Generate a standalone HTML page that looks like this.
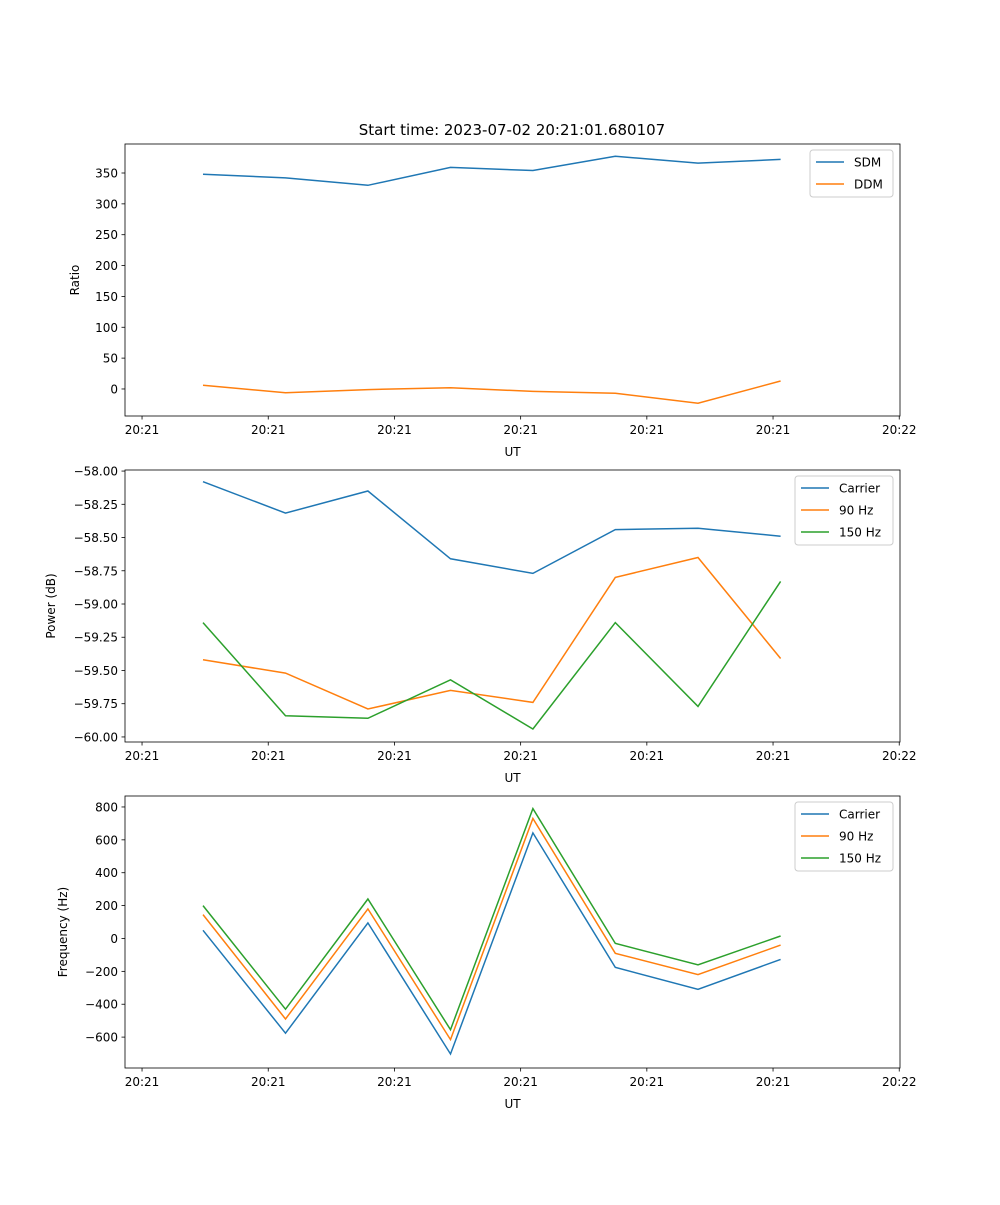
<!DOCTYPE html>
<html><head><meta charset="utf-8"><style>
body{margin:0;background:#fff}
svg text{font-family:"DejaVu Sans","Liberation Sans",sans-serif;fill:#000}
</style></head><body>
<svg id="fig" width="1000" height="1200" xmlns="http://www.w3.org/2000/svg"></svg>
<script>
const times = [4.83, 11.37, 17.9, 24.44, 30.97, 37.5, 44.05, 50.6];
const xTickVals = [0, 10, 20, 30, 40, 50, 60];
const xTickLabels = ["20:21","20:21","20:21","20:21","20:21","20:21","20:22"];
const sdm = [348, 342, 330, 359, 354, 377, 366, 372];
const ddm = [6, -6, -1, 2, -4, -7, -23, 13];
const powCarrier = [-58.08, -58.316, -58.15, -58.66, -58.77, -58.44, -58.43, -58.49];
const pow90 = [-59.42, -59.52, -59.79, -59.65, -59.74, -58.80, -58.65, -59.41];
const pow150 = [-59.14, -59.84, -59.86, -59.57, -59.94, -59.14, -59.77, -58.83];
const freqCarrier = [50, -576, 95, -703, 642, -176, -309, -127];
const freq90 = [145, -490, 180, -615, 730, -90, -220, -40];
const freq150 = [200, -430, 240, -555, 790, -30, -160, 15];
const ticks1 = [0,50,100,150,200,250,300,350];
const ticks1Labels = ["0","50","100","150","200","250","300","350"];
const ticks2 = [-60,-59.75,-59.5,-59.25,-59,-58.75,-58.5,-58.25,-58];
const ticks2Labels = ["\u221260.00","\u221259.75","\u221259.50","\u221259.25","\u221259.00","\u221258.75","\u221258.50","\u221258.25","\u221258.00"];
const ticks3 = [-600,-400,-200,0,200,400,600,800];
const ticks3Labels = ["\u2212600","\u2212400","\u2212200","0","200","400","600","800"];

const NS="http://www.w3.org/2000/svg";
const svg=document.getElementById('fig');
function el(tag,attrs,parent,text){const e=document.createElementNS(NS,tag);for(const k in attrs)e.setAttribute(k,attrs[k]);if(text!==undefined)e.textContent=text;(parent||svg).appendChild(e);return e;}
const L=125,R=900;
const xMin=-1.35,xMax=60.06;
const xs=v=>L+(v-xMin)/(xMax-xMin)*(R-L);
const FS='12';

function panel(name,top,bot,yMin,yMax,yt,ytl,ylabel,ylabX,series,legend){
  const g=el('g',{},svg);
  
  
  const ys=v=>bot-(v-yMin)/(yMax-yMin)*(bot-top);
  series.forEach(s=>{
    const p=el('polyline',{points:s.vals.map((v,i)=>xs(times[i]).toFixed(1)+','+ys(v).toFixed(1)).join(' '),fill:'none',stroke:s.color,'stroke-width':1.5},g);
    
    
  });
  const fr=el('rect',{x:L,y:top,width:R-L,height:bot-top,fill:'none',stroke:'#000','stroke-width':0.8},g);
  
  
  xTickVals.forEach((v,i)=>{
    const x=xs(v);
    el('line',{x1:x,x2:x,y1:bot,y2:bot+3.5,stroke:'#000','stroke-width':0.8},g);
    const t=el('text',{x:x,y:bot+18,'text-anchor':'middle','font-size':FS},g,xTickLabels[i]);
    
    
  });
  const xl=el('text',{x:(L+R)/2,y:bot+40,'text-anchor':'middle','font-size':FS},g,'UT');
  
  
  yt.forEach((v,i)=>{
    const y=ys(v);
    el('line',{x1:L-3.5,x2:L,y1:y,y2:y,stroke:'#000','stroke-width':0.8},g);
    const t=el('text',{x:L-7,y:y+4.5,'text-anchor':'end','font-size':FS},g,ytl[i]);
    
    
  });
  const cy=(top+bot)/2;
  const yl=el('text',{x:ylabX,y:cy,'text-anchor':'middle','font-size':FS,transform:'rotate(-90 '+ylabX+' '+cy+')'},g,ylabel);
  
  
  const lg=el('g',{},g);
  
  
  el('rect',{x:legend.x,y:top+6,width:legend.w,height:series.length*22+3,rx:3,fill:'#fff',stroke:'#ccc','stroke-width':1},lg);
  series.forEach((s,i)=>{
    const y=top+18+i*22;
    el('line',{x1:legend.x+6,x2:legend.x+34,y1:y,y2:y,stroke:s.color,'stroke-width':1.5},lg);
    const t=el('text',{x:legend.x+44,y:y+4.5,'font-size':FS},lg,s.label);
    
    
  });
}
const title=el('text',{x:512,y:135,'text-anchor':'middle','font-size':'15'},svg,'Start time: 2023-07-02 20:21:01.680107');


const B='#1f77b4',O='#ff7f0e',G='#2ca02c';
panel('ratio',144,416,-43.8,397,ticks1,ticks1Labels,'Ratio',79,
 [{key:'sdm',label:'SDM',vals:sdm,color:B},{key:'ddm',label:'DDM',vals:ddm,color:O}],{x:810,w:83});
panel('power',470,742,-60.038,-57.992,ticks2,ticks2Labels,'Power (dB)',55,
 [{key:'carrier',label:'Carrier',vals:powCarrier,color:B},{key:'90hz',label:'90 Hz',vals:pow90,color:O},{key:'150hz',label:'150 Hz',vals:pow150,color:G}],{x:795,w:98});
panel('frequency',796,1068,-787.9,866.7,ticks3,ticks3Labels,'Frequency (Hz)',67,
 [{key:'carrier',label:'Carrier',vals:freqCarrier,color:B},{key:'90hz',label:'90 Hz',vals:freq90,color:O},{key:'150hz',label:'150 Hz',vals:freq150,color:G}],{x:795,w:98});
</script>
</body></html>
